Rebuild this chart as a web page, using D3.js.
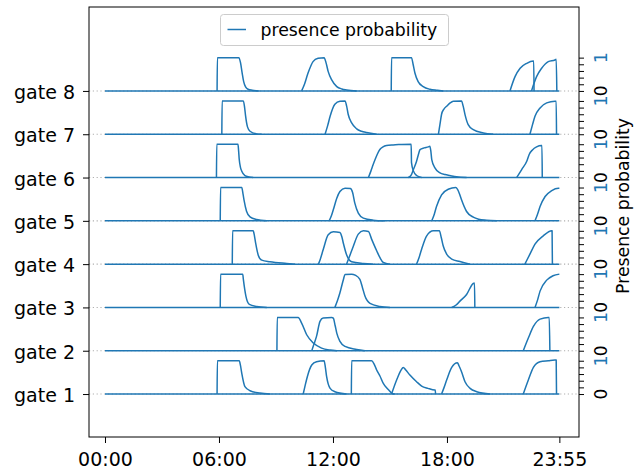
<!DOCTYPE html>
<html><head><meta charset="utf-8">
<script src="https://cdn.jsdelivr.net/npm/d3@7"></script>
<style>body{margin:0;background:#fff}svg{display:block}text{font-family:"DejaVu Sans",sans-serif}</style>
</head><body>
<svg id="chart" width="644" height="475"></svg>
<script>
// ---- data (time in minutes since 00:00, presence probability 0..1) ----
const gateNames = ["gate 1","gate 2","gate 3","gate 4","gate 5","gate 6","gate 7","gate 8"];
const xTickValues = [0, 360, 720, 1080, 1435];
const xTickLabels = ["00:00","06:00","12:00","18:00","23:55"];
const dayStart = 0, dayEnd = 1435;

const gate1 = [
  [[354,0],[355,1],[424,1],[428,0.85],[432,0.62],[442,0.22],[458,0.1],[489,0.03],[521,0]],
  [[626,0],[632,0.25],[639,0.52],[653,0.87],[668,0.97],[692,1.0],[696,0.8],[700,0.52],[711,0.17],[726,0.07],[763,0]],
  [[778,0],[779,1],[842,1],[850,0.9],[858,0.72],[868,0.55],[879,0.32],[890,0.18],[898,0.1],[905,0.03],[915,0]],
  [[905,0],[921,0.42],[935,0.72],[942,0.8],[950,0.72],[963,0.57],[984,0.37],[1000,0.24],[1020,0.17],[1042,0.12],[1043,0.12],[1044,0]],
  [[1063,0],[1071,0.2],[1079,0.42],[1095,0.8],[1113,0.94],[1118,0.85],[1126,0.67],[1137,0.37],[1153,0.17],[1174,0.07],[1216,0]],
  [[1321,0],[1337,0.42],[1353,0.8],[1374,0.97],[1400,1.0],[1421,1.02],[1425,1.02],[1426,0]]
];
const gate2 = [
  [[543,0],[544,1],[610,1],[621,0.83],[637,0.48],[658,0.23],[684,0.08],[711,0.02],[732,0]],
  [[653,0],[660,0.2],[668,0.43],[679,0.88],[689,0.98],[716,1.0],[721,0.98],[727,0.75],[732,0.53],[742,0.28],[758,0.13],[795,0.04],[821,0]],
  [[1321,0],[1337,0.38],[1353,0.73],[1374,0.95],[1400,1.0],[1403,1.0],[1405,0]]
];
const gate3 = [
  [[364,0],[365,1],[435,1],[437,0.84],[445,0.34],[456,0.09],[479,0.03],[511,0]],
  [[726,0],[734,0.2],[742,0.44],[753,0.84],[758,0.99],[779,1.0],[790,0.97],[805,0.84],[813,0.6],[821,0.34],[837,0.12],[868,0.03],[900,0]],
  [[1095,0],[1110,0.08],[1121,0.19],[1142,0.39],[1163,0.72],[1167,0.73],[1168,0]],
  [[1358,0],[1366,0.22],[1374,0.49],[1395,0.82],[1415,0.95],[1435,1.0]]
];
const gate4 = [
  [[402,0],[403,1],[468,1],[472,0.85],[476,0.62],[484,0.27],[495,0.12],[521,0.07],[574,0.02],[600,0]],
  [[674,0],[680,0.15],[689,0.43],[705,0.88],[721,0.97],[742,0.95],[748,0.82],[753,0.62],[763,0.28],[779,0.07],[816,0.02],[847,0]],
  [[763,0],[773,0.25],[784,0.53],[800,0.9],[816,1.0],[832,0.98],[842,0.75],[858,0.4],[868,0.2],[879,0.05],[900,0]],
  [[984,0],[992,0.2],[1000,0.45],[1016,0.85],[1037,1.0],[1056,1.0],[1062,0.8],[1068,0.55],[1079,0.3],[1095,0.15],[1121,0.08],[1153,0]],
  [[1326,0],[1342,0.3],[1358,0.6],[1384,0.85],[1411,1.0],[1412,1.0],[1413,0]]
];
const gate5 = [
  [[364,0],[365,1],[432,1],[436,0.8],[439,0.63],[447,0.29],[458,0.12],[479,0.04],[511,0]],
  [[708,0],[715,0.15],[721,0.33],[732,0.68],[742,0.88],[758,0.98],[775,0.97],[782,0.85],[789,0.53],[800,0.23],[816,0.08],[847,0.02],[884,0]],
  [[1032,0],[1040,0.2],[1047,0.43],[1063,0.78],[1084,0.95],[1108,1.0],[1113,0.95],[1120,0.8],[1126,0.63],[1142,0.28],[1163,0.11],[1180,0.05],[1205,0.02],[1237,0]],
  [[1358,0],[1366,0.2],[1374,0.43],[1390,0.73],[1411,0.91],[1432,0.98],[1435,0.98]]
];
const gate6 = [
  [[352,0],[353,1],[420,1],[422,0.8],[424,0.54],[428,0.3],[432,0.19],[442,0.06],[455,0.02],[468,0]],
  [[832,0],[840,0.2],[847,0.39],[853,0.54],[860,0.7],[868,0.84],[878,0.92],[889,0.96],[910,0.98],[932,0.99],[967,1.0],[968,0.45],[974,0.2],[984,0.06],[1000,0]],
  [[958,0],[968,0.09],[974,0.24],[984,0.49],[990,0.7],[995,0.84],[1008,0.89],[1021,0.92],[1026,0.94],[1029,0.8],[1032,0.54],[1042,0.29],[1058,0.14],[1074,0.09],[1089,0.06],[1110,0.02],[1142,0]],
  [[1300,0],[1316,0.24],[1332,0.49],[1340,0.7],[1350,0.83],[1363,0.92],[1379,0.96],[1380,0.96],[1381,0]]
];
const gate7 = [
  [[369,0],[370,1],[437,1],[441,0.8],[444,0.55],[450,0.22],[458,0.09],[479,0.01],[495,0]],
  [[695,0],[703,0.25],[711,0.54],[726,0.9],[742,0.99],[758,1.0],[763,0.85],[768,0.6],[779,0.34],[795,0.16],[810,0.09],[826,0.05],[858,0]],
  [[1053,0],[1058,0.3],[1063,0.6],[1070,0.75],[1079,0.84],[1090,0.94],[1100,0.99],[1126,1.0],[1131,0.85],[1137,0.59],[1147,0.29],[1163,0.14],[1195,0.04],[1226,0]],
  [[1342,0],[1350,0.28],[1358,0.54],[1374,0.79],[1395,0.94],[1421,0.99],[1425,0.99],[1426,0]]
];
const gate8 = [
  [[354,0],[355,1],[423,1],[428,0.85],[433,0.55],[438,0.28],[444,0.12],[452,0.05],[465,0.02],[485,0]],
  [[621,0],[630,0.2],[641,0.53],[650,0.75],[657,0.88],[673,0.98],[692,1.0],[698,0.85],[705,0.58],[716,0.33],[732,0.13],[748,0.06],[763,0.03],[795,0]],
  [[904,0],[905,1],[968,1],[973,0.8],[979,0.53],[989,0.28],[1005,0.13],[1026,0.05],[1050,0.02],[1068,0]],
  [[1279,0],[1295,0.43],[1311,0.68],[1332,0.83],[1353,0.9],[1354,0.9],[1355,0]],
  [[1347,0],[1363,0.43],[1379,0.68],[1400,0.88],[1421,0.93],[1425,0.95],[1427,0]]
];
const gates = [gate1, gate2, gate3, gate4, gate5, gate6, gate7, gate8];
const gateGap = 1.3;          // vertical offset between gates (in probability units)
const rightTickSteps = [0, 0.2, 0.4, 0.6, 0.8, 1.0];

// ---- drawing ----
const blue = "#1f77b4";
const svg = d3.select("#chart");
const L = 89, R = 579, T = 7, B = 437;
const x = d3.scaleLinear().domain([-50.5, 1497]).range([L, R]);
const y = d3.scaleLinear().domain([-1.29, 11.62]).range([B, T]);
const base = i => i * gateGap;

// dotted grid at gate baselines
svg.append("g").selectAll("line").data(gateNames).join("line")
  .attr("x1", L).attr("x2", R)
  .attr("y1", (d,i) => y(base(i))).attr("y2", (d,i) => y(base(i)))
  .attr("stroke", "#b0b0b0").attr("stroke-width", 1.1).attr("stroke-dasharray", "1.2,2.6");

const line = d3.line().x(d => x(d[0])).y(d => d[1]).curve(d3.curveMonotoneX);
const lines = svg.append("g").attr("fill", "none").attr("stroke", blue).attr("stroke-width", 1.5).attr("stroke-linejoin","round");
gates.forEach((pulses, i) => {
  lines.append("path").attr("d", line([[dayStart, y(base(i))],[dayEnd, y(base(i))]]));
  pulses.forEach(p => {
    lines.append("path").attr("d", line(p.map(d => [d[0], y(base(i) + d[1])])));
  });
});

// frame
svg.append("rect").attr("x", L).attr("y", T).attr("width", R-L).attr("height", B-T)
  .attr("fill", "none").attr("stroke", "#000").attr("stroke-width", 1);

// bottom axis
const xAxis = d3.axisBottom(x).tickValues(xTickValues).tickFormat((d,i) => xTickLabels[i]).tickSize(6).tickPadding(4);
const gx = svg.append("g").attr("transform", `translate(0,${B})`).call(xAxis);
gx.select(".domain").remove();
gx.selectAll("line").attr("stroke", "#000").attr("stroke-width", 1);
gx.selectAll("text").attr("font-size", 19).attr("fill", "#000").attr("dy", null).attr("y", 28.5);

// left axis
const yAxis = d3.axisLeft(y).tickValues(gateNames.map((d,i) => base(i))).tickFormat((d,i) => gateNames[i]).tickSize(6).tickPadding(8);
const gy = svg.append("g").attr("transform", `translate(${L},0)`).call(yAxis);
gy.select(".domain").remove();
gy.selectAll("line").attr("stroke", "#000").attr("stroke-width", 1);
gy.selectAll("text").attr("font-size", 19).attr("fill", "#000").attr("dy", null).attr("y", 7.5).attr("x", -14);

// right axis: ticks at 0..1 per gate
const rTicks = [];
gates.forEach((g, i) => rightTickSteps.forEach(s => rTicks.push(base(i) + s)));
const yR = d3.axisRight(y).tickValues(rTicks).tickFormat("").tickSize(5);
const gr = svg.append("g").attr("transform", `translate(${R},0)`).call(yR);
gr.select(".domain").remove();
gr.selectAll("line").attr("stroke", "#000").attr("stroke-width", 1);
const rLabels = svg.append("g").attr("font-size", 17).attr("text-anchor", "middle");
gates.forEach((g, i) => {
  [[0, "0", "#000"], [1, "1", blue]].forEach(([v, t, c]) => {
    rLabels.append("text").attr("transform", `translate(607,${y(base(i)+v)}) rotate(-90)`)
      .attr("fill", c).text(t);
  });
});
svg.append("text").attr("transform", `translate(629,206) rotate(-90)`)
  .attr("text-anchor", "middle").attr("font-size", 17.3).attr("fill", "#000").text("Presence probability");

// legend
const lg = svg.append("g");
lg.append("rect").attr("x", 220.5).attr("y", 14.5).attr("width", 228).attr("height", 31).attr("rx", 3)
  .attr("fill", "#fff").attr("fill-opacity", 0.8).attr("stroke", "#cccccc").attr("stroke-width", 1);
lg.append("line").attr("x1", 227.5).attr("x2", 246).attr("y1", 29.5).attr("y2", 29.5)
  .attr("stroke", blue).attr("stroke-width", 1.5);
lg.append("text").attr("x", 260.5).attr("y", 36).attr("font-size", 17.3).attr("fill", "#000").text("presence probability");
</script>
</body></html>
